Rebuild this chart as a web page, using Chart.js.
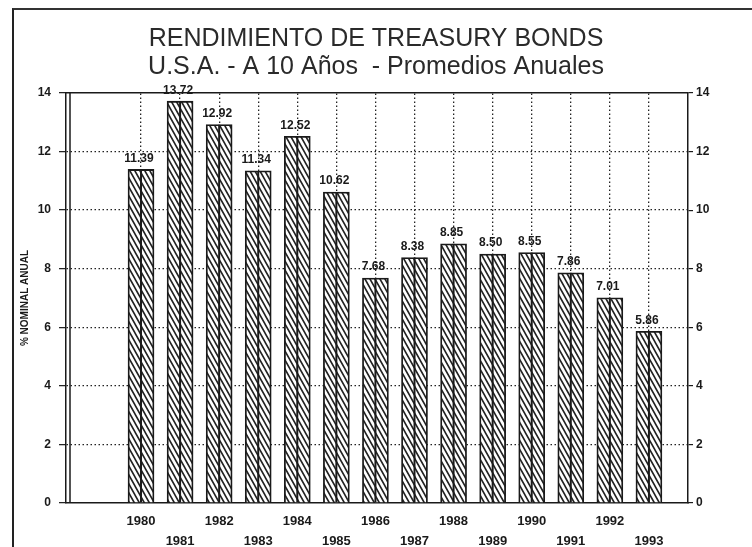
<!DOCTYPE html>
<html>
<head>
<meta charset="utf-8">
<script src="https://cdn.jsdelivr.net/npm/chart.js@4.4.1/dist/chart.umd.min.js"></script>
<style>
  html, body { margin: 0; padding: 0; background: #fff; }
  #wrap { position: relative; width: 752px; height: 547px; }
  #frame {
    position: absolute; left: 12px; top: 8px; right: 0; bottom: 0;
    border-left: 2px solid #222; border-top: 2px solid #333; pointer-events: none;
  }
</style>
</head>
<body>
<div id="wrap">
  <canvas id="myChart" width="752" height="547"></canvas>
  <div id="frame"></div>
</div>
<script>
const titleLines = ["RENDIMIENTO DE TREASURY BONDS", "U.S.A. - A 10 Años  - Promedios Anuales"];
const yAxisLabel = "% NOMINAL ANUAL";
const years = [1980, 1981, 1982, 1983, 1984, 1985, 1986, 1987, 1988, 1989, 1990, 1991, 1992, 1993];
const yields = [11.39, 13.72, 12.92, 11.34, 12.52, 10.62, 7.68, 8.38, 8.85, 8.50, 8.55, 7.86, 7.01, 5.86];
const yearDividers = [1980.5, 1981.5, 1982.5, 1983.5, 1984.5, 1985.5, 1986.5, 1987.5, 1988.5, 1989.5, 1990.5, 1991.5, 1992.5];
const yTicks = [0, 2, 4, 6, 8, 10, 12, 14];

const ink = "#1a1a1a";
const tickFont = { family: "Liberation Sans", size: 12, weight: "bold" };

// diagonal hatch used to fill the bars
function makeHatch() {
  const c = document.createElement("canvas");
  c.width = 5;
  c.height = 9;
  const g = c.getContext("2d");
  g.fillStyle = "#fff";
  g.fillRect(0, 0, 5, 9);
  g.strokeStyle = "#222";
  g.lineWidth = 1.6;
  g.beginPath();
  g.moveTo(-5, -9); g.lineTo(10, 18);
  g.moveTo(0, -9); g.lineTo(15, 18);
  g.moveTo(-10, -9); g.lineTo(5, 18);
  g.stroke();
  return g.createPattern(c, "repeat");
}

// in v4 the dash of the grid lines lives under border.dash
const dotted = [1.5, 2.5];

const barExtras = {
  id: "barExtras",
  afterDatasetsDraw(chart) {
    const ctx = chart.ctx;
    const meta = chart.getDatasetMeta(0);
    const area = chart.chartArea;
    ctx.save();
    // second line of the double left axis
    ctx.strokeStyle = ink;
    ctx.lineWidth = 1.5;
    ctx.beginPath();
    ctx.moveTo(area.left + 4, area.top);
    ctx.lineTo(area.left + 4, area.bottom);
    ctx.stroke();
    meta.data.forEach((bar, i) => {
      // divider down the middle of each bar
      ctx.lineWidth = 2;
      ctx.beginPath();
      ctx.moveTo(bar.x, bar.y);
      ctx.lineTo(bar.x, bar.base);
      ctx.stroke();
      ctx.fillStyle = ink;
      ctx.font = "bold 12px 'Liberation Sans'";
      ctx.textAlign = "center";
      ctx.textBaseline = "bottom";
      ctx.fillText(yields[i].toFixed(2), bar.x - 2, bar.y - 5);
    });
    ctx.restore();
  },
};

const chartData = {
  datasets: [
    {
      data: years.map((yr, i) => ({ x: yr, y: yields[i] })),
      backgroundColor: makeHatch(),
      borderColor: ink,
      borderWidth: 1.8,
      barThickness: 26,
      xAxisID: "x",
      yAxisID: "y",
    },
  ],
};

const config = {
  type: "bar",
  data: chartData,
  options: {
    responsive: false,
    animation: false,
    layout: { padding: 0 },
    plugins: {
      legend: { display: false },
      tooltip: { enabled: false },
      title: {
        display: true,
        text: titleLines,
        color: "#2a2a2a",
        font: { family: "Liberation Sans", size: 25, weight: "normal", lineHeight: 1.12 },
        padding: { top: 25, bottom: 12 },
      },
    },
    scales: {
      x: {
        type: "linear",
        position: "bottom",
        min: 1978.08,
        max: 1994,
        offset: false,
        afterBuildTicks: (scale) => { scale.ticks = years.map((v) => ({ value: v })); },
        afterFit: (scale) => { scale.height = 44; },
        grid: { display: false, drawTicks: false },
        border: { display: true, color: ink, width: 1.5 },
        ticks: {
          autoSkip: false,
          maxRotation: 0,
          padding: 8,
          color: ink,
          font: { family: "Liberation Sans", size: 13, weight: "bold", lineHeight: 1.55 },
          callback: (v) => (v % 2 === 0 ? [String(v), ""] : ["", String(v)]),
        },
      },
      xg: {
        type: "linear",
        position: "top",
        min: 1978.08,
        max: 1994,
        offset: false,
        afterBuildTicks: (scale) => { scale.ticks = yearDividers.map((v) => ({ value: v })); },
        grid: { color: "#222", lineWidth: 1.3, drawTicks: false },
        border: { display: true, color: ink, width: 1.5, dash: dotted },
        ticks: { display: false },
      },
      y: {
        position: "left",
        min: 0,
        max: 14,
        afterBuildTicks: (scale) => { scale.ticks = yTicks.map((v) => ({ value: v })); },
        afterFit: (scale) => { scale.width = 66; },
        grid: {
          color: (ctx) => (ctx.tick && (ctx.tick.value === 0 || ctx.tick.value === 14)) ? "rgba(0,0,0,0)" : "#222",
          lineWidth: 1.3,
          drawTicks: true,
          tickLength: 7,
          tickColor: ink,
          tickWidth: 1.2,
          tickBorderDash: [],
        },
        border: { display: true, color: ink, width: 1.5, dash: dotted },
        ticks: { color: ink, padding: 8, font: tickFont },
        title: {
          display: true,
          text: yAxisLabel,
          color: ink,
          font: { family: "Liberation Sans", size: 10, weight: "bold" },
          padding: { top: 19 },
        },
      },
      y2: {
        position: "right",
        min: 0,
        max: 14,
        afterBuildTicks: (scale) => { scale.ticks = yTicks.map((v) => ({ value: v })); },
        afterFit: (scale) => { scale.width = 64; },
        grid: { display: true, drawOnChartArea: false, tickLength: 5, color: ink, lineWidth: 1.2 },
        border: { display: true, color: ink, width: 1.5 },
        ticks: { color: ink, padding: 3, font: tickFont },
      },
    },
  },
  plugins: [barExtras],
};

const myChart = new Chart(document.getElementById("myChart"), config);
</script>
</body>
</html>
